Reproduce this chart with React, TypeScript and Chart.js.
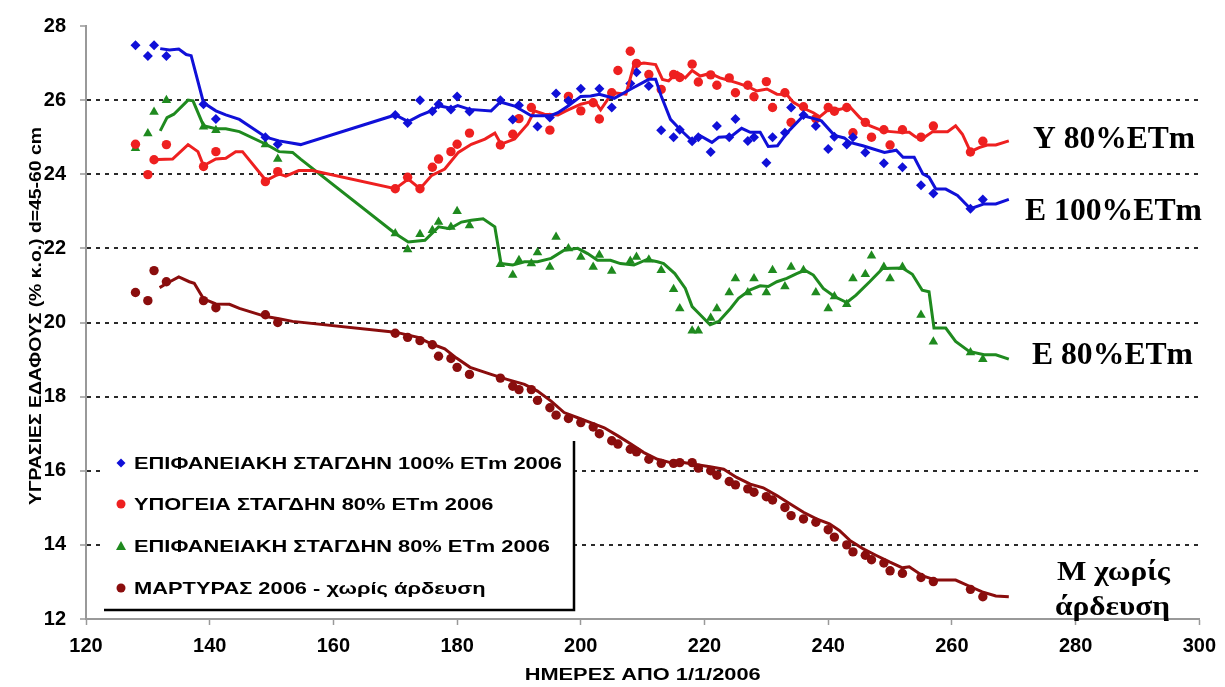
import React, { useEffect, useRef } from 'react';
import { Chart, registerables } from 'chart.js';

Chart.register(...registerables);

// ---------- DATA ----------
const xTitle = 'ΗΜΕΡΕΣ ΑΠΟ 1/1/2006';
const yTitle = 'ΥΓΡΑΣΙΕΣ ΕΔΑΦΟΥΣ (% κ.ο.) d=45-60 cm';
const legendLabels = [
  'ΕΠΙΦΑΝΕΙΑΚΗ ΣΤΑΓΔΗΝ 100% ETm 2006',
  'ΥΠΟΓΕΙΑ ΣΤΑΓΔΗΝ 80% ETm 2006',
  'ΕΠΙΦΑΝΕΙΑΚΗ ΣΤΑΓΔΗΝ 80% ETm 2006',
  'ΜΑΡΤΥΡΑΣ 2006 - χωρίς άρδευση',
];
const seriesTags = ['Υ 80%ETm', 'Ε 100%ETm', 'Ε 80%ETm', 'Μ χωρίς', 'άρδευση'];

const xMin = 120, xMax = 300, xStep = 20;
const yMin = 12, yMax = 28, yStep = 2;

// Blue: ΕΠΙΦΑΝΕΙΑΚΗ 100%
const blueDays = [128,130,131,133,139,141,149,151,170,172,174,176,177,179,180,182,187,189,190,193,195,196,198,200,203,205,208,209,211,213,215,216,218,219,221,222,224,225,227,228,230,231,233,234,236,238,240,241,243,244,246,249,252,255,257,263,265];
const blueVals = [27.48,27.19,27.48,27.19,25.89,25.49,25.0,24.81,25.6,25.38,26.0,25.7,25.89,25.75,26.1,25.69,26.0,25.48,25.86,25.29,25.53,26.18,25.98,26.31,26.31,25.8,26.45,26.75,26.38,25.19,25.0,25.2,24.89,25.0,24.6,25.3,25.0,25.49,24.9,25.0,24.31,25.0,25.12,25.8,25.6,25.3,24.68,25.01,24.8,25.0,24.59,24.3,24.19,23.7,23.48,23.07,23.32];
const blueLineDays = [132,133.5,135,136.2,137,139,141,142.6,144.8,149.1,151.2,154.7,170,172.1,174,176,177,179,180.1,182,185.5,187,189.3,192,195.1,196.3,198,200,201.6,203,205.4,208.1,211,212.1,213,214.5,216.1,218,219.3,221.2,222.3,224.3,226,227.4,229,230.3,231.8,233.4,236,237.7,238.9,241,242.6,243.5,245.6,249.1,251,252.1,253.9,255.3,256.3,257.4,259,260.9,263,265.2,267.1,269.2];
const blueLineVals = [27.39,27.35,27.38,27.23,27.2,25.93,25.71,25.6,25.48,25.0,24.9,24.8,25.6,25.42,25.59,25.72,25.85,25.78,25.85,25.75,25.71,25.95,25.84,25.58,25.58,25.66,25.85,26.1,26.11,26.16,26.05,26.3,26.56,26.56,26.11,25.48,25.2,24.9,25.04,24.86,25.0,25.02,25.24,25.13,25.13,24.75,24.77,25.13,25.58,25.5,25.44,25.05,24.98,24.86,24.77,24.59,24.65,24.46,24.46,24.01,23.92,23.6,23.6,23.43,23.07,23.2,23.2,23.32];

// Red: ΥΠΟΓΕΙΑ 80%
const redDays = [128,130,131,133,139,141,149,151,170,172,174,176,177,179,180,182,187,189,190,192,195,198,200,202,203,205,206,208,209,211,213,215,216,218,219,221,222,224,225,227,228,230,231,233,234,236,238,240,241,243,244,246,247,249,250,252,255,257,263,265];
const redVals = [24.81,23.99,24.39,24.8,24.21,24.61,23.8,24.07,23.61,23.92,23.61,24.19,24.41,24.61,24.81,25.11,24.79,25.08,25.5,25.8,25.19,26.1,25.71,25.93,25.49,26.2,26.8,27.32,26.99,26.69,26.29,26.69,26.61,26.97,26.49,26.68,26.4,26.6,26.2,26.4,26.09,26.5,25.8,26.2,25.4,25.82,25.5,25.8,25.7,25.8,25.12,25.4,25.0,25.2,24.79,25.2,25.0,25.3,24.6,24.89];
const redLineDays = [130.4,134,136.5,138.1,139,141,142.6,144.2,145.3,149.1,151.2,152.3,154.4,156.6,170,172.1,174,175.9,178,180.2,182.3,184.5,186.1,187.1,189.3,191.4,192.5,194.1,196.3,197.6,200,202.2,203.2,205.1,207.3,208.6,210.2,212.1,213.2,214.2,215.6,216.9,218,219.3,220.9,222.5,224.2,225.5,227.1,228.4,230.1,231.7,233.3,234.3,236,237.6,238.6,239.7,240.8,241.8,243.5,245.1,246.7,248.8,251.5,253.1,254.2,255.3,256.9,259.3,260.6,261.7,263,264.4,265.7,267.1,269.2];
const redLineVals = [24.39,24.41,24.8,24.61,24.23,24.41,24.43,24.61,24.61,23.83,24.01,23.95,24.1,24.1,23.61,23.87,23.61,23.97,24.14,24.59,24.81,24.95,25.11,24.81,24.95,25.35,25.71,25.62,25.6,25.71,25.89,25.98,25.74,26.2,26.16,26.95,27.0,26.96,26.56,26.52,26.75,26.6,26.8,26.65,26.72,26.6,26.52,26.45,26.36,26.25,26.3,26.16,26.15,25.95,25.78,25.66,25.55,25.7,25.78,25.75,25.82,25.53,25.31,25.17,25.13,25.13,25.0,24.97,25.15,25.15,25.31,25.08,24.61,24.72,24.79,24.79,24.9];

// Green: ΕΠΙΦΑΝΕΙΑΚΗ 80%
const greenDays = [128,130,131,133,139,141,149,151,170,172,174,176,177,179,180,182,187,189,190,192,193,195,196,198,200,202,203,205,208,209,211,213,215,216,218,219,221,222,224,225,227,228,230,231,233,234,236,238,240,241,243,244,246,247,249,250,252,255,257,263,265];
const greenVals = [24.7,25.1,25.68,26.0,25.28,25.19,24.8,24.41,22.4,21.97,22.38,22.49,22.71,22.58,23.0,22.62,21.57,21.28,21.68,21.59,21.89,21.5,22.31,22.0,21.77,21.5,21.82,21.39,21.66,21.77,21.69,21.41,20.9,20.38,19.78,19.78,20.12,20.38,20.81,21.19,20.81,21.19,20.81,21.41,20.97,21.5,21.41,20.81,20.38,20.7,20.49,21.19,21.3,21.8,21.5,21.19,21.5,20.2,19.48,19.19,19.01];
const greenLineDays = [132,133.1,134.2,136.5,137.3,139,141,142.6,144.8,149.1,151.2,153.4,154.7,170,172.1,174.8,177,178.8,180.7,182.3,184.2,186.1,187.1,189,190.9,193,195.2,197.3,199.5,201.1,202.7,204.8,206.4,208.6,210.7,212.4,213.4,215.2,216.9,218,219.3,220.9,222.3,224.2,225.5,227.4,229,230.3,231.7,233.3,234.9,236.2,237.6,239.2,241,243,244.5,246.7,248.8,252,253.6,255.2,256.3,257.1,259,260.6,262.8,265.2,267.1,269.2];
const greenLineVals = [25.17,25.53,25.62,26.0,25.98,25.31,25.23,25.23,25.15,24.81,24.61,24.59,24.41,22.4,22.17,22.22,22.58,22.53,22.71,22.76,22.8,22.58,21.59,21.55,21.64,21.64,21.73,21.95,22.0,21.86,21.68,21.68,21.59,21.55,21.7,21.64,21.59,21.32,20.92,20.43,20.21,19.94,20.03,20.38,20.65,20.88,20.99,20.97,21.1,21.19,21.32,21.41,21.28,20.92,20.7,20.54,20.74,21.1,21.46,21.47,21.3,20.87,20.83,19.85,19.85,19.49,19.22,19.13,19.13,19.01];

// Maroon: ΜΑΡΤΥΡΑΣ
const maroonDays = [128,130,131,133,139,141,149,151,170,172,174,176,177,179,180,182,187,189,190,192,193,195,196,198,200,202,203,205,206,208,209,211,213,215,216,218,219,221,222,224,225,227,228,230,231,233,234,236,238,240,241,243,244,246,247,249,250,252,255,257,263,265];
const maroonVals = [20.81,20.59,21.4,21.1,20.59,20.4,20.21,20.0,19.71,19.6,19.51,19.4,19.09,19.03,18.79,18.6,18.5,18.28,18.19,18.19,17.9,17.7,17.5,17.41,17.3,17.18,17.0,16.81,16.72,16.58,16.51,16.31,16.2,16.2,16.22,16.22,16.07,16.0,15.88,15.71,15.62,15.51,15.42,15.3,15.21,15.01,14.79,14.7,14.61,14.41,14.21,14.0,13.81,13.72,13.6,13.51,13.3,13.23,13.12,13.01,12.8,12.6];
const maroonLineDays = [131.9,133.1,135,136.7,137.5,139,141,143.2,144.8,149.1,151.2,153.4,170,173.7,175.9,178,179.9,182.1,185.5,188.2,190.9,193,195.2,197.3,199.5,201.6,203.8,206,208.1,210.2,212.4,214.5,216.6,218.8,220.9,223.1,225.2,227.4,229.5,231.7,233.8,236,238.1,240.2,241.8,243.5,245.6,247.7,249.9,252,253.1,255.3,257.4,260.6,263.3,264.9,267.1,269.2];
const maroonLineVals = [20.94,21.06,21.23,21.1,21.06,20.64,20.5,20.49,20.38,20.16,20.1,20.03,19.74,19.6,19.42,19.29,19.04,18.79,18.6,18.46,18.33,18.15,17.88,17.57,17.43,17.3,17.16,16.94,16.72,16.49,16.31,16.22,16.22,16.16,16.11,16.04,15.82,15.64,15.54,15.33,15.11,14.88,14.7,14.57,14.39,14.12,13.9,13.72,13.54,13.38,13.41,13.16,13.05,13.05,12.85,12.73,12.62,12.6];

// ---------- STYLE ----------
const BLUE = '#1010d8';
const RED = '#ee2020';
const GREEN = '#1f8a1f';
const MAROON = '#8a0d0d';
const SANS = '"Liberation Sans", Arial, sans-serif';
const SERIF = '"Liberation Serif", "Times New Roman", serif';

const pts = (xs: number[], ys: number[]) => xs.map((x, i) => ({ x, y: ys[i] }));

function fillTextFit(ctx: CanvasRenderingContext2D, text: string, x: number, y: number, width: number, align: 'left' | 'center') {
  const w = ctx.measureText(text).width;
  const s = Math.max(0.75, Math.min(1.45, width / w));
  ctx.save();
  ctx.translate(x, y);
  ctx.scale(s, 1);
  ctx.textAlign = align;
  ctx.fillText(text, 0, 0);
  ctx.restore();
}

const overlayPlugin = {
  id: 'overlay',
  beforeDraw(chart: any) {
    const ctx = chart.ctx as CanvasRenderingContext2D;
    ctx.save();
    ctx.fillStyle = '#ffffff';
    ctx.fillRect(0, 0, chart.width, chart.height);
    ctx.restore();
  },
  afterDraw(chart: any) {
    const ctx = chart.ctx as CanvasRenderingContext2D;
    const area = chart.chartArea;
    ctx.save();

    // legend box
    ctx.fillStyle = '#ffffff';
    ctx.fillRect(101, 441, 473, 169);
    ctx.strokeStyle = '#000';
    ctx.lineWidth = 2.5;
    ctx.beginPath();
    ctx.moveTo(104, 610);
    ctx.lineTo(574, 610);
    ctx.lineTo(574, 441);
    ctx.stroke();

    const ys = [463, 504, 546, 588];
    const colors = [BLUE, RED, GREEN, MAROON];
    ys.forEach((cy, i) => {
      const mx = 121;
      ctx.fillStyle = colors[i];
      ctx.beginPath();
      if (i === 0) {
        ctx.moveTo(mx, cy - 4.5); ctx.lineTo(mx + 4.5, cy); ctx.lineTo(mx, cy + 4.5); ctx.lineTo(mx - 4.5, cy); ctx.closePath();
      } else if (i === 2) {
        ctx.moveTo(mx, cy - 5); ctx.lineTo(mx + 5, cy + 4); ctx.lineTo(mx - 5, cy + 4); ctx.closePath();
      } else {
        ctx.arc(mx, cy, 4.5, 0, Math.PI * 2);
      }
      ctx.fill();
    });
    ctx.fillStyle = '#000';
    ctx.font = `bold 17px ${SANS}`;
    ctx.textBaseline = 'alphabetic';
    const s = 428 / ctx.measureText(legendLabels[0]).width;
    legendLabels.forEach((t, i) => {
      ctx.save();
      ctx.translate(134, ys[i] + 6);
      ctx.scale(s, 1);
      ctx.textAlign = 'left';
      ctx.fillText(t, 0, 0);
      ctx.restore();
    });

    // axis titles
    ctx.fillStyle = '#000';
    ctx.font = `bold 16px ${SANS}`;
    ctx.textBaseline = 'middle';
    fillTextFit(ctx, xTitle, (area.left + area.right) / 2, 676, 236, 'center');
    ctx.save();
    ctx.translate(37, 316);
    ctx.rotate(-Math.PI / 2);
    fillTextFit(ctx, yTitle, 0, 0, 378, 'center');
    ctx.restore();

    // series tags
    ctx.textBaseline = 'alphabetic';
    ctx.font = `bold 32px ${SERIF}`;
    fillTextFit(ctx, seriesTags[0], 1033, 148, 162, 'left');
    fillTextFit(ctx, seriesTags[1], 1025, 220, 177, 'left');
    fillTextFit(ctx, seriesTags[2], 1032, 364, 161, 'left');
    ctx.font = `bold 27px ${SERIF}`;
    fillTextFit(ctx, seriesTags[3], 1057, 580, 113, 'left');
    fillTextFit(ctx, seriesTags[4], 1055, 615, 115, 'left');

    ctx.restore();
  },
};

export default function App() {
  const ref = useRef<HTMLCanvasElement>(null);

  useEffect(() => {
    if (!ref.current) return;
    const lineDs = (label: string, xs: number[], ys: number[], color: string) => ({
      label,
      data: pts(xs, ys),
      showLine: true,
      borderColor: color,
      backgroundColor: color,
      borderWidth: 3,
      pointRadius: 0,
      tension: 0,
      fill: false,
      order: 0,
    });
    const pointDs = (label: string, xs: number[], ys: number[], color: string, style: string, r: number) => ({
      label,
      data: pts(xs, ys),
      showLine: false,
      backgroundColor: color,
      borderColor: color,
      borderWidth: 0,
      pointStyle: style,
      pointRadius: r,
      order: 1,
    });

    const chart = new Chart(ref.current, {
      type: 'scatter',
      data: {
        datasets: [
          lineDs('blue-line', blueLineDays, blueLineVals, BLUE),
          lineDs('red-line', redLineDays, redLineVals, RED),
          lineDs('green-line', greenLineDays, greenLineVals, GREEN),
          lineDs('maroon-line', maroonLineDays, maroonLineVals, MAROON),
          pointDs(legendLabels[0], blueDays, blueVals, BLUE, 'rectRot', 5),
          pointDs(legendLabels[1], redDays, redVals, RED, 'circle', 4.7),
          pointDs(legendLabels[2], greenDays, greenVals, GREEN, 'triangle', 5.5),
          pointDs(legendLabels[3], maroonDays, maroonVals, MAROON, 'circle', 4.7),
        ] as any,
      },
      options: {
        responsive: false,
        animation: false,
        devicePixelRatio: 1,
        layout: { padding: { top: 23, right: 20, left: 0, bottom: 0 } },
        plugins: {
          legend: { display: false },
          tooltip: { enabled: false },
        },
        scales: {
          x: {
            type: 'linear',
            min: xMin,
            max: xMax,
            ticks: {
              stepSize: xStep,
              color: '#000',
              font: { family: SANS, size: 20, weight: 'bold' },
              padding: 9,
              maxRotation: 0,
            },
            grid: {
              drawOnChartArea: false,
              drawTicks: true,
              tickLength: 6,
              tickColor: '#999',
              tickWidth: 1.5,
            },
            border: { color: '#999', width: 2 },
            afterFit: (s: any) => { s.height = 68; },
          },
          y: {
            min: yMin,
            max: yMax,
            ticks: {
              stepSize: yStep,
              color: '#000',
              font: { family: SANS, size: 20, weight: 'bold' },
              padding: 14,
            },
            grid: {
              color: (c: any) => (c.tick && (c.tick.value === yMin || c.tick.value === yMax) ? 'rgba(0,0,0,0)' : '#2a2a2a'),
              lineWidth: 2,
              drawTicks: true,
              tickLength: 6,
              tickColor: '#999',
              tickWidth: 1.5,
              tickBorderDash: [],
            },
            border: { color: '#999', width: 2, dash: [4, 5] },
            afterFit: (s: any) => { s.width = 86; },
          },
        },
      } as any,
      plugins: [overlayPlugin],
    });
    return () => chart.destroy();
  }, []);

  return (
    <div style={{ position: 'fixed', left: 0, top: 0, width: 1225, height: 687, background: '#fff' }}>
      <canvas ref={ref} width={1225} height={687} style={{ display: 'block', width: 1225, height: 687 }} />
    </div>
  );
}
